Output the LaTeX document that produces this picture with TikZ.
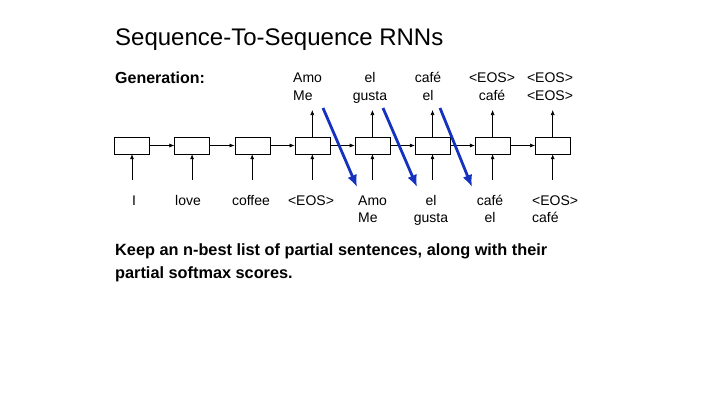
\documentclass[tikz,border=0pt]{standalone}
\usepackage{fontspec}
\setmainfont{Liberation Sans}
\usetikzlibrary{positioning, arrows.meta}
\definecolor{beamblue}{RGB}{20,50,190}

\begin{document}
\begin{tikzpicture}[x=1pt, y=-1pt, node distance=24.7pt, cell/.style={draw, minimum width=35pt, minimum height=17pt, inner sep=0pt}, word/.style={font=\fontsize{14}{17.5}\selectfont, align=center, inner sep=0pt, anchor=base}, arrow/.style={-{Latex[length=5pt, width=4pt]}, semithick}, beam/.style={-{Latex[length=12pt, width=10pt]}, line width=2.8pt, beamblue}]
      \useasboundingbox (0,0) rectangle (720,405);
      \node[anchor=base west, inner sep=0pt, font=\fontsize{24}{28}\selectfont] (title) at (115,45) {Sequence-To-Sequence RNNs};
      \node[anchor=base west, inner sep=0pt, font=\fontsize{16}{19}\selectfont\bfseries] (gen) at (115,83) {Generation:};

      % encoder and decoder cells
      \node[cell] (c1) at (132,145.5) {}; \node[cell, right=of c1] (c2) {};
      \node[cell, right=of c2] (c3) {}; \node[cell, right=of c3] (c4) {};
      \node[cell, right=of c4] (c5) {}; \node[cell, right=of c5] (c6) {};
      \node[cell, right=of c6] (c7) {}; \node[cell, right=of c7] (c8) {};

      % inputs
      \node[word] (i1) at (134,205) {I}; \node[word] (i2) at (188,205) {love};
      \node[word] (i3) at (251,205) {coffee}; \node[word] (i4) at (311,205) {<EOS>};
      \node[word, align=left, anchor=base west] (i5) at (358,222.5) {Amo\\Me};
      \node[word] (i6) at (431,222.5) {el\\gusta}; \node[word] (i7) at (490,222.5) {café\\el};
      \node[word, align=left, anchor=base west] (i8) at (532,222.5) {<EOS>\\café};

      % outputs
      \node[word, align=left, anchor=base west] (o4) at (293,100) {Amo\\Me};
      \node[word] (o5) at (370,100) {el\\gusta}; \node[word] (o6) at (428,100) {café\\el};
      \node[word] (o7) at (492,100) {<EOS>\\café}; \node[word] (o8) at (550,100) {<EOS>\\<EOS>};

      \coordinate (b1) at (c1.center |- 0,180); \coordinate (b2) at (c2.center |- 0,180);
      \coordinate (b3) at (c3.center |- 0,180); \coordinate (b4) at (c4.center |- 0,180);
      \coordinate (b5) at (c5.center |- 0,180); \coordinate (b6) at (c6.center |- 0,180);
      \coordinate (b7) at (c7.center |- 0,180); \coordinate (b8) at (c8.center |- 0,180);
      \coordinate (t4) at (c4.center |- 0,110); \coordinate (t5) at (c5.center |- 0,110);
      \coordinate (t6) at (c6.center |- 0,110); \coordinate (t7) at (c7.center |- 0,110);
      \coordinate (t8) at (c8.center |- 0,110);

      \draw[arrow] (c1) -- (c2); \draw[arrow] (c2) -- (c3); \draw[arrow] (c3) -- (c4);
      \draw[arrow] (c4) -- (c5); \draw[arrow] (c5) -- (c6); \draw[arrow] (c6) -- (c7);
      \draw[arrow] (c7) -- (c8);
      \draw[arrow] (b1) -- (c1); \draw[arrow] (b2) -- (c2); \draw[arrow] (b3) -- (c3);
      \draw[arrow] (b4) -- (c4); \draw[arrow] (b5) -- (c5); \draw[arrow] (b6) -- (c6);
      \draw[arrow] (b7) -- (c7); \draw[arrow] (b8) -- (c8);
      \draw[arrow] (c4) -- (t4); \draw[arrow] (c5) -- (t5); \draw[arrow] (c6) -- (t6);
      \draw[arrow] (c7) -- (t7); \draw[arrow] (c8) -- (t8);

      % feeding outputs back in
      \coordinate (s1) at (323,108); \coordinate (e1) at (357,187);
      \coordinate (s2) at (383,108); \coordinate (e2) at (417,187);
      \coordinate (s3) at (440,108); \coordinate (e3) at (472,187);
      \draw[beam] (s1) -- (e1); \draw[beam] (s2) -- (e2); \draw[beam] (s3) -- (e3);

      \node[anchor=base west, inner sep=0pt, align=left, font=\fontsize{16.3}{23}\selectfont\bfseries] (note) at (115,278) {Keep an n-best list of partial sentences, along with their\\partial softmax scores.};
    \end{tikzpicture}
\end{document}
